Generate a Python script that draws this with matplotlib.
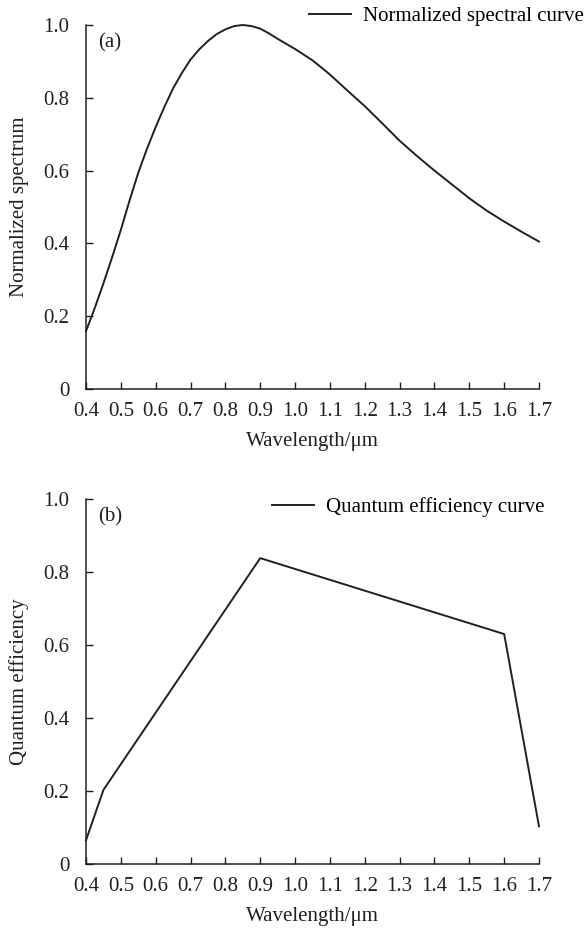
import matplotlib
matplotlib.use('Agg')
import matplotlib.pyplot as plt
import numpy as np

# (a) normalized spectral curve
wl_spec = [0.40, 0.425, 0.45, 0.475, 0.50, 0.525, 0.55, 0.575, 0.60, 0.625,
           0.65, 0.675, 0.70, 0.725, 0.75, 0.775, 0.80, 0.825, 0.85, 0.875,
           0.90, 0.925, 0.95, 1.00, 1.05, 1.10, 1.15, 1.20, 1.25, 1.30,
           1.35, 1.40, 1.45, 1.50, 1.55, 1.60, 1.65, 1.70]
spec = [0.159, 0.222, 0.290, 0.362, 0.437, 0.518, 0.594, 0.660, 0.720, 0.775,
        0.826, 0.868, 0.905, 0.933, 0.956, 0.975, 0.988, 0.997, 1.000, 0.997,
        0.990, 0.977, 0.962, 0.934, 0.903, 0.864, 0.820, 0.777, 0.730, 0.682,
        0.640, 0.600, 0.562, 0.524, 0.490, 0.460, 0.432, 0.405]

# (b) quantum efficiency curve
wl_qe = [0.40, 0.45, 0.90, 1.60, 1.70]
qe = [0.065, 0.203, 0.838, 0.630, 0.103]

x_ticks = [0.4, 0.5, 0.6, 0.7, 0.8, 0.9, 1.0, 1.1, 1.2, 1.3, 1.4, 1.5, 1.6, 1.7]
y_ticks = [0, 0.2, 0.4, 0.6, 0.8, 1.0]
y_ticklabels = ['0', '0.2', '0.4', '0.6', '0.8', '1.0']

plt.rcParams['font.family'] = ['Liberation Serif', 'DejaVu Serif']
plt.rcParams['font.size'] = 15

fig = plt.figure(figsize=(5.87, 9.3), dpi=100)
ax1 = fig.add_axes([86/587, 1-389/930, 453/587, 364/930])
ax2 = fig.add_axes([86/587, 1-864/930, 453/587, 365/930])

color = '#231f20'

def style(ax, ylabel, tag):
    ax.set_xlim(0.4, 1.7)
    ax.set_ylim(0, 1.0)
    ax.set_xticks(x_ticks)
    ax.set_xticklabels([f'{t:.1f}' for t in x_ticks])
    ax.set_yticks(y_ticks)
    ax.set_yticklabels(y_ticklabels)
    for s in ['top', 'right']:
        ax.spines[s].set_visible(False)
    for s in ['left', 'bottom']:
        ax.spines[s].set_linewidth(1.1)
        ax.spines[s].set_color(color)
    ax.tick_params(direction='in', length=5, width=1.0, colors=color,
                   labelcolor=color, labelsize=15)
    ax.tick_params(axis='x', pad=9)
    ax.tick_params(axis='y', pad=12)
    ax.set_xlabel('Wavelength/μm', fontsize=15, color=color, labelpad=8)
    ax.set_ylabel(ylabel, fontsize=15, color=color)
    ax.yaxis.set_label_coords(-0.125, 0.5)
    ax.text(0.026, 0.95, tag, transform=ax.transAxes, fontsize=15,
            color=color, va='center', ha='left')

ax1.plot(wl_spec, spec, color=color, lw=1.4, label='Normalized spectral curve',
         clip_on=False)
style(ax1, 'Normalized spectrum', '(a)')
ax1.legend(loc='center left', bbox_to_anchor=(309/587, 1-16.7/930),
           bbox_transform=fig.transFigure, frameon=False, borderpad=0,
           borderaxespad=0, handlelength=2.0, handletextpad=0.6, fontsize=15)

ax2.plot(wl_qe, qe, color=color, lw=1.4, label='Quantum efficiency curve',
         clip_on=False)
style(ax2, 'Quantum efficiency', '(b)')
ax2.legend(loc='center left', bbox_to_anchor=(272/587, 1-507.3/930),
           bbox_transform=fig.transFigure, frameon=False, borderpad=0,
           borderaxespad=0, handlelength=2.0, handletextpad=0.6, fontsize=15)

plt.savefig('out.png', dpi=100)
